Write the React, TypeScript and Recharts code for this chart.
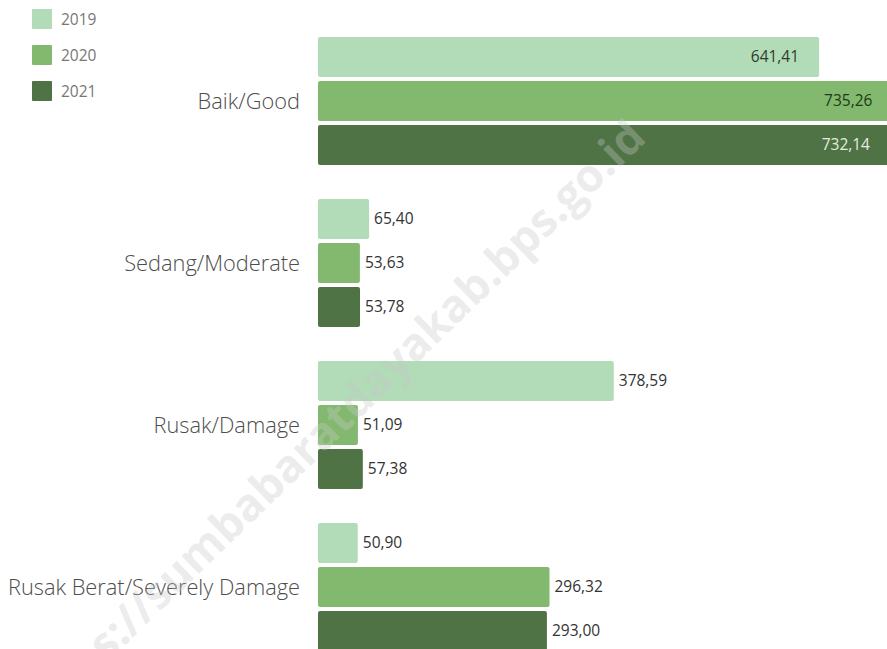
import React from "react";
import { BarChart, Bar, XAxis, YAxis, LabelList } from "recharts";

const categories = ["Baik/Good", "Sedang/Moderate", "Rusak/Damage", "Rusak Berat/Severely Damage"];
const seriesNames = ["2019", "2020", "2021"];
const values2019 = [641.41, 65.4, 378.59, 50.9];
const values2020 = [735.26, 53.63, 51.09, 296.32];
const values2021 = [732.14, 53.78, 57.38, 293.0];
const colors = ["#b2dbb7", "#82b96e", "#4f7345"];
const insideTextColors = ["#2f3b2f", "#1e3a18", "#e4ede2"];
const watermark = "https://sumbabaratdayakab.bps.go.id";

const data = categories.map((c, i) => ({
  name: c,
  v2019: values2019[i],
  v2020: values2020[i],
  v2021: values2021[i],
}));
const keys = ["v2019", "v2020", "v2021"];

const fmt = (v: number) => v.toFixed(2).replace(".", ",");

const makeLabel = (si: number) => (props: any) => {
  const { x, y, width, height, value } = props;
  const inside = value > 500;
  const cy = y + height / 2;
  if (inside) {
    return (
      <text x={x + width - 20} y={cy} dy="0.35em" textAnchor="end" fontSize={15.5} fill={insideTextColors[si]} fontFamily="'Open Sans'">
        {fmt(value)}
      </text>
    );
  }
  return (
    <text x={x + width + 5} y={cy} dy="0.35em" textAnchor="start" fontSize={15.5} fill="#333" fontFamily="'Open Sans'">
      {fmt(value)}
    </text>
  );
};

const CatTick = (props: any) => {
  const { x, y, payload } = props;
  return (
    <text x={x} y={y} dy="0.35em" textAnchor="end" fontSize={21.8} fill="#4d4d4d" fontFamily="'Open Sans'" fontWeight={300}>
      {payload.value}
    </text>
  );
};

export default function App() {
  return (
    <div style={{ position: "absolute", left: 0, top: 0, width: 887, height: 649, overflow: "hidden", background: "#fff", fontFamily: "'Open Sans'" }}>
      <BarChart
        width={943}
        height={668}
        data={data}
        layout="vertical"
        margin={{ top: 20, right: 0, bottom: 0, left: 0 }}
        barSize={40}
        barGap={4}
      >
        <XAxis type="number" domain={[0, 800]} hide allowDataOverflow />
        <YAxis type="category" dataKey="name" width={318} axisLine={false} tickLine={false} tickMargin={12} tick={<CatTick />} />
        {keys.map((k, si) => (
          <Bar key={k} dataKey={k} name={seriesNames[si]} fill={colors[si]} radius={2} isAnimationActive={false}>
            <LabelList dataKey={k} content={makeLabel(si)} />
          </Bar>
        ))}
      </BarChart>
      <div style={{ position: "absolute", left: 32, top: 9 }}>
        {seriesNames.map((s, i) => (
          <div key={s} style={{ display: "flex", alignItems: "center", height: 20, marginBottom: 16 }}>
            <div style={{ width: 20, height: 20, background: colors[i], borderRadius: 1 }} />
            <span style={{ marginLeft: 9, fontSize: 15.5, color: "#777", lineHeight: "20px" }}>{s}</span>
          </div>
        ))}
      </div>
      <svg width={887} height={649} style={{ position: "absolute", left: 0, top: 0, pointerEvents: "none" }}>
        <text
          x={648}
          y={140}
          textAnchor="end"
          transform="rotate(-44 648 140)"
          fontSize={45}
          fontWeight={700}
          fill="#c8c8c8"
          fillOpacity={0.35}
          fontFamily="'Open Sans'"
        >
          {watermark}
        </text>
      </svg>
    </div>
  );
}
